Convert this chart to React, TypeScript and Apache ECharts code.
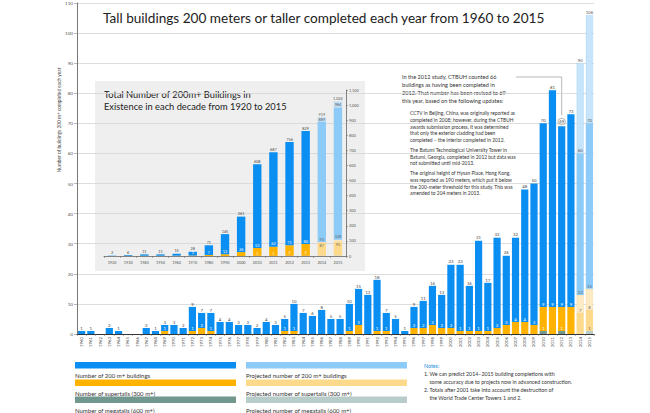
import React, { useEffect, useRef } from "react";
import * as echarts from "echarts";

// ---------- main chart data (buildings completed each year) ----------
const years = [
  "1960", "1961", "1962", "1963", "1964", "1965", "1966", "1967", "1968", "1969",
  "1970", "1971", "1972", "1973", "1974", "1975", "1976", "1977", "1978", "1979",
  "1980", "1981", "1982", "1983", "1984", "1985", "1986", "1987", "1988", "1989",
  "1990", "1991", "1992", "1993", "1994", "1995", "1996", "1997", "1998", "1999",
  "2000", "2001", "2002", "2003", "2004", "2005", "2006", "2007", "2008", "2009",
  "2010", "2011", "2012", "2013", "2014", "2015",
];
const buildings200 = [
  1, 1, 0, 2, 1, 0, 0, 2, 1, 3,
  3, 2, 9, 7, 7, 4, 4, 3, 3, 2,
  4, 3, 5, 10, 7, 6, 8, 5, 5, 10,
  15, 13, 18, 7, 5, 1, 9, 11, 16, 13,
  23, 23, 16, 31, 17, 32, 26, 32, 48, 50,
  70, 81, 69, 73,
];
const supertalls = [
  0, 0, 0, 0, 0, 0, 0, 0, 0, 1,
  0, 0, 1, 2, 1, 0, 0, 0, 0, 0,
  0, 0, 1, 1, 0, 0, 0, 0, 0, 1,
  3, 0, 1, 1, 0, 0, 2, 2, 3, 2,
  2, 1, 1, 1, 1, 2, 3, 4, 4, 3,
  9, 9, 9, 9,
];
const megatalls = [
  0, 0, 0, 0, 0, 0, 0, 0, 0, 0,
  0, 0, 0, 0, 0, 0, 0, 0, 0, 0,
  0, 0, 0, 0, 0, 0, 0, 0, 0, 0,
  0, 0, 0, 0, 0, 0, 0, 0, 0, 0,
  0, 0, 0, 0, 0, 0, 0, 0, 0, 0,
  1, 0, 1, 0,
];
const projYears = ["2014", "2015"];
const projBuildingsLow = [60, 70];
const projBuildingsHigh = [90, 106];
const projSuperLow = [7, 8];
const projSuperHigh = [13, 15];
const projMega = [0, 1];

// ---------- inset data (total in existence) ----------
const decades = [
  "1920", "1930", "1940", "1950", "1960", "1970", "1980", "1990", "2000",
  "2010", "2011", "2012", "2013", "2014", "2015",
];
const cumBuildings = [2, 6, 11, 11, 15, 28, 71, 145, 261, 608, 687, 756, 829];
const cumSuper = [0, 1, 2, 2, 2, 3, 7, 12, 26, 53, 62, 71, 80];
const cumMega = [0, 0, 0, 0, 0, 0, 0, 0, 0, 1, 1, 2, 2];
const projCumBuildingsLow = [889, 984];
const projCumBuildingsHigh = [919, 1024];
const projCumSuperLow = [87, 95];
const projCumSuperHigh = [93, 108];
const projCumMega = [2, 3];

const FONT = "Lato";
const C = {
  blue: "#0a8ef2",
  orange: "#ffb200",
  mega: "#72978f",
  pBlue: "#8ccaf7",
  pBlue2: "#c6e4fa",
  pOrange: "#fdd98b",
  pOrange2: "#feebc4",
  pMega: "#b8cdc9",
  text: "#333",
};

function fmt(v: number) {
  return v.toLocaleString("en-US");
}

function buildSeries(
  cats: string[],
  tot: number[],
  sup: number[],
  meg: number[],
  pCats: string[],
  pTotLow: number[],
  pTotHigh: number[],
  pSupLow: number[],
  pSupHigh: number[],
  pMeg: number[],
  idx: number,
  stack: string,
  barWidth: string,
  fontSize: number,
  innerFrom: number,
  circled: string | null,
  pSupLowPos: string
) {
  const A = (i: number) => (i < tot.length ? i : -1);
  const P = (i: number) => pCats.indexOf(cats[i]);
  const lbl = (color: string, fn: (i: number) => string, position = "top") => ({
    show: true,
    position,
    distance: 0.8,
    fontSize,
    fontFamily: FONT,
    color,
    formatter: (p: any) => fn(p.dataIndex),
  });
  const base = {
    type: "bar",
    stack,
    xAxisIndex: idx,
    yAxisIndex: idx,
    barWidth,
    barGap: "0%",
    silent: true,
  };
  const mk = (fn: (i: number) => number | string) => cats.map((_, i) => fn(i));
  const blueRestData: any[] = mk((i) => (A(i) >= 0 ? tot[A(i)] - sup[A(i)] : "-"));
  if (circled) {
    const ci = cats.indexOf(circled);
    blueRestData[ci] = {
      value: blueRestData[ci],
      label: {
        borderColor: "#8a8a8a",
        borderWidth: 0.6,
        borderRadius: 5,
        padding: [1.6, 1.2, 1, 1.2],
        distance: 1.5,
      },
    };
  }
  return [
    {
      ...base,
      name: "mega" + idx,
      data: mk((i) => (A(i) >= 0 ? meg[A(i)] : "-")),
      itemStyle: { color: C.mega },
      label: lbl("#fff", (i) => (A(i) >= 0 && meg[A(i)] > 0 && i >= innerFrom ? String(meg[A(i)]) : "")),
    },
    {
      ...base,
      name: "super" + idx,
      data: mk((i) => (A(i) >= 0 ? sup[A(i)] - meg[A(i)] : "-")),
      itemStyle: { color: C.orange },
      label: lbl("#fff", (i) => (A(i) >= 0 && sup[A(i)] > 0 && i >= innerFrom ? String(sup[A(i)]) : "")),
    },
    {
      ...base,
      name: "b200" + idx,
      data: blueRestData,
      itemStyle: { color: C.blue },
      label: lbl("#444", (i) => (A(i) >= 0 && tot[A(i)] > 0 ? fmt(tot[A(i)]) : "")),
    },
    {
      ...base,
      name: "pmega" + idx,
      data: mk((i) => (P(i) >= 0 ? pMeg[P(i)] : "-")),
      itemStyle: { color: C.pMega },
      label: lbl("#666", (i) => (P(i) >= 0 && pMeg[P(i)] > 0 && idx === 0 ? String(pMeg[P(i)]) : "")),
    },
    {
      ...base,
      name: "psup" + idx,
      data: mk((i) => (P(i) >= 0 ? pSupLow[P(i)] - pMeg[P(i)] : "-")),
      itemStyle: { color: C.pOrange },
      label: lbl("#666", (i) => (P(i) >= 0 ? String(pSupLow[P(i)]) : ""), pSupLowPos),
    },
    {
      ...base,
      name: "psup2" + idx,
      data: mk((i) => (P(i) >= 0 ? pSupHigh[P(i)] - pSupLow[P(i)] : "-")),
      itemStyle: { color: C.pOrange2, borderColor: "#e9c77e", borderWidth: 0.5, borderType: "dotted" },
      label: lbl("#666", (i) => (P(i) >= 0 ? String(pSupHigh[P(i)]) : "")),
    },
    {
      ...base,
      name: "pb" + idx,
      data: mk((i) => (P(i) >= 0 ? pTotLow[P(i)] - pSupHigh[P(i)] : "-")),
      itemStyle: { color: C.pBlue },
      label: lbl("#555", (i) => (P(i) >= 0 ? fmt(pTotLow[P(i)]) : "")),
    },
    {
      ...base,
      name: "pb2" + idx,
      data: mk((i) => (P(i) >= 0 ? pTotHigh[P(i)] - pTotLow[P(i)] : "-")),
      itemStyle: { color: C.pBlue2, borderColor: "#8fc3ea", borderWidth: 0.5, borderType: "dotted" },
      label: lbl("#555", (i) => (P(i) >= 0 ? fmt(pTotHigh[P(i)]) : "")),
    },
  ];
}

function txt(x: number, y: number, text: string, size: number, extra: any = {}) {
  return {
    type: "text",
    x,
    y,
    silent: true,
    style: {
      text,
      fontSize: size,
      fontFamily: FONT,
      fill: C.text,
      textVerticalAlign: "middle",
      verticalAlign: "middle",
      ...extra,
    },
  };
}

const annot1 = [
  "In the 2012 study, CTBUH counted 66",
  "buildings as having been completed in",
  "2012. That number has been revised to 69",
  "this year, based on the following updates:",
];
const annot2 = [
  "CCTV in Beijing, China, was originally reported as",
  "completed in 2008; however, during the CTBUH",
  "awards submission process, it was determined",
  "that only the exterior cladding had been",
  "completed – the interior completed in 2012.",
];
const annot3 = [
  "The Batumi Technological University Tower in",
  "Batumi, Georgia, completed in 2012 but data was",
  "not submitted until mid-2013.",
];
const annot4 = [
  "The original height of Hysan Place, Hong Kong,",
  "was reported as 190 meters, which put it below",
  "the 200-meter threshold for this study. This was",
  "amended to 204 meters in 2013.",
];
const legendItems = [
  ["Number of 200 m+ buildings", C.blue],
  ["Number of supertalls (300 m+)", C.orange],
  ["Number of megatalls (600 m+)", C.mega],
];
const legendProj = [
  ["Projected number of 200 m+ buildings", C.pBlue],
  ["Projected number of supertalls (300 m+)", C.pOrange],
  ["Projected number of megatalls (600 m+)", C.pMega],
];
const notes = [
  "1. We can predict 2014–2015 building completions with",
  "    some accuracy due to projects now in advanced construction.",
  "2. Totals after 2001 take into account the destruction of",
  "    the World Trade Center Towers 1 and 2.",
];

export default function App() {
  const ref = useRef<HTMLDivElement>(null);
  useEffect(() => {
    if (!ref.current) return;
    const chart = echarts.init(ref.current, null, { renderer: "svg" });

    const graphics: any[] = [];
    graphics.push({
      type: "rect",
      z: -10,
      silent: true,
      shape: { x: 95, y: 81, width: 270, height: 190 },
      style: { fill: "#efefef" },
    });
    graphics.push(txt(103, 17.5, "Tall buildings 200 meters or taller completed each year from 1960 to 2015", 13.6, { fill: "#222" }));
    graphics.push(txt(104, 94, "Total Number of 200m+ Buildings in", 9.3, { fill: "#222" }));
    graphics.push(txt(104, 106, "Existence in each decade from 1920 to 2015", 9.3, { fill: "#222" }));
    graphics.push({
      type: "text",
      x: 59,
      y: 120,
      rotation: Math.PI / 2,
      silent: true,
      style: {
        text: "Number of buildings 200 m+ completed each year",
        fontSize: 4.8,
        fontFamily: FONT,
        fill: "#444",
        align: "center",
        textAlign: "center",
        verticalAlign: "middle",
        textVerticalAlign: "middle",
      },
    });
    annot1.forEach((t, i) => graphics.push(txt(402, 76.7 + i * 7.8, t, 5.6)));
    annot2.forEach((t, i) => graphics.push(txt(410, 113.3 + i * 6.7, t, 4.9)));
    annot3.forEach((t, i) => graphics.push(txt(410, 150 + i * 6.7, t, 4.9)));
    annot4.forEach((t, i) => graphics.push(txt(410, 173.3 + i * 6.7, t, 4.9)));
    const rowsY = [362, 379.5, 396.5];
    legendItems.forEach((it, i) => {
      graphics.push({ type: "rect", silent: true, shape: { x: 75, y: rowsY[i], width: 161, height: 6.5 }, style: { fill: it[1] } });
      graphics.push(txt(75, rowsY[i] + 13.5, it[0], 6.0));
    });
    legendProj.forEach((it, i) => {
      graphics.push({ type: "rect", silent: true, shape: { x: 246, y: rowsY[i], width: 161, height: 6.5 }, style: { fill: it[1] } });
      graphics.push(txt(246, rowsY[i] + 13.5, it[0], 6.0));
    });
    graphics.push(txt(424, 365.5, "Notes:", 5.3, { fill: "#1a8fe0" }));
    notes.forEach((t, i) => graphics.push(txt(424, 373.5 + i * 8.3, t, 5.3)));

    const mainSeries = buildSeries(
      years, buildings200, supertalls, megatalls,
      projYears, projBuildingsLow, projBuildingsHigh, projSuperLow, projSuperHigh, projMega,
      0, "main", "78%", 4.3, 0, "2012", "top"
    );
    const insetSeries = buildSeries(
      decades, cumBuildings, cumSuper, cumMega,
      ["2014", "2015"], projCumBuildingsLow, projCumBuildingsHigh, projCumSuperLow, projCumSuperHigh, projCumMega,
      1, "inset", "52%", 3.8, 5, null, "insideTop"
    );

    const option: any = {
      animation: false,
      backgroundColor: "#fff",
      textStyle: { fontFamily: FONT },
      grid: [
        { left: 77, top: 3, width: 517, height: 331, containLabel: false },
        { left: 104, top: 90, width: 242, height: 166, containLabel: false },
      ],
      xAxis: [
        {
          type: "category",
          gridIndex: 0,
          data: years,
          axisLine: { lineStyle: { color: "#333", width: 1.2 } },
          axisTick: { show: true, length: 2, lineStyle: { color: "#666", width: 0.5 } },
          axisLabel: { rotate: 90, interval: 0, fontSize: 4.3, color: "#444", margin: 3, fontFamily: FONT },
          splitLine: { show: false },
        },
        {
          type: "category",
          gridIndex: 1,
          data: decades,
          axisLine: { lineStyle: { color: "#666", width: 0.8 } },
          axisTick: { show: true, length: 2, lineStyle: { color: "#666", width: 0.5 } },
          axisLabel: { interval: 0, fontSize: 3.8, color: "#555", margin: 4, fontFamily: FONT },
        },
      ],
      yAxis: [
        {
          type: "value",
          gridIndex: 0,
          min: 0,
          max: 110,
          interval: 10,
          axisLine: { show: true, lineStyle: { color: "#555", width: 0.8 } },
          axisTick: { show: true, length: 3, lineStyle: { color: "#777", width: 0.5 } },
          axisLabel: { fontSize: 4.6, color: "#555", margin: 4, fontFamily: FONT },
          splitLine: { show: true, lineStyle: { color: "#d4d4d4", width: 0.8 } },
        },
        {
          type: "value",
          gridIndex: 1,
          position: "right",
          min: 0,
          max: 1100,
          interval: 100,
          axisLine: { show: true, lineStyle: { color: "#666", width: 0.8 } },
          axisTick: { show: true, length: 2, lineStyle: { color: "#666", width: 0.5 } },
          axisLabel: { fontSize: 3.8, color: "#555", margin: 3, fontFamily: FONT },
          splitLine: { show: false },
        },
      ],
      series: [...mainSeries, ...insetSeries],
      graphic: graphics,
    };
    chart.setOption(option);

    const ci = years.indexOf("2012");
    const pt = chart.convertToPixel({ gridIndex: 0 }, [years[ci], buildings200[ci]]) as number[];
    chart.setOption({
      graphic: [
        ...graphics,
        {
          type: "polyline",
          silent: true,
          shape: { points: [[516, 77], [pt[0], 77], [pt[0], pt[1] - 11]] },
          style: { stroke: "#9a9a9a", lineWidth: 0.7, fill: null },
        },
      ],
    });

    return () => chart.dispose();
  }, []);
  return (
    <div
      ref={ref}
      style={{ position: "fixed", left: 0, top: 0, width: 650, height: 413, background: "#fff" }}
    />
  );
}
